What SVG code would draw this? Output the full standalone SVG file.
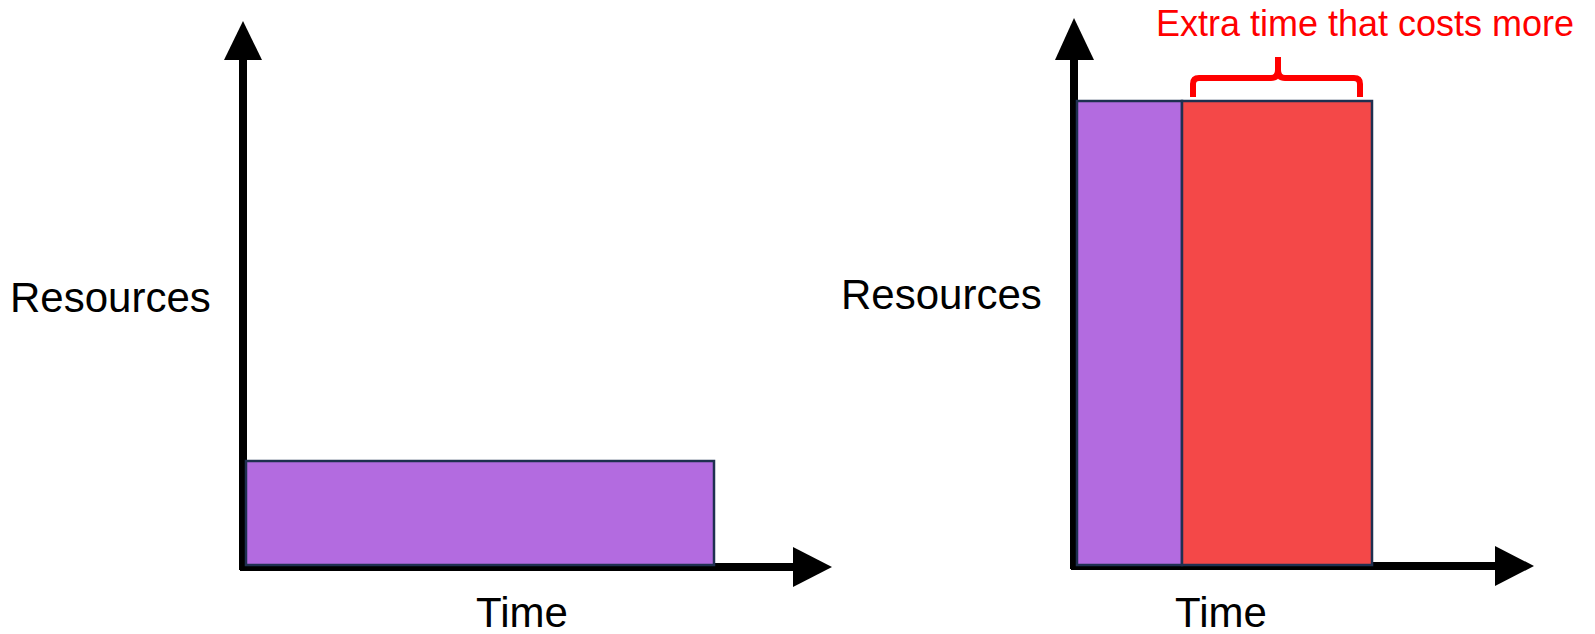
<svg xmlns="http://www.w3.org/2000/svg" width="1595" height="634" viewBox="0 0 1595 634">
<style>
.lbl{font-family:"Liberation Sans",Arial,sans-serif;font-size:42px;fill:#000}
.red{font-family:"Liberation Sans",Arial,sans-serif;font-size:36px;fill:#ff0000}
.axis{stroke:#000;stroke-width:8;fill:none}
.head{fill:#000}
.purple{fill:#b36be0;stroke:#1f3050;stroke-width:2.5}
.redbox{fill:#f44848;stroke:#1f3050;stroke-width:2.5}
.brace{fill:none;stroke:#ff0000;stroke-width:6;stroke-linejoin:round}
</style>
<rect width="1595" height="634" fill="#fff"/>
<g id="connectors">
  <g id="left-axes">
    <line class="axis" x1="243" y1="56" x2="243" y2="570"/>
    <polygon class="head" points="243,21 224,60 262,60"/>
    <line class="axis" x1="240" y1="567" x2="796" y2="567"/>
    <polygon class="head" points="832,567 793,547 793,587"/>
  </g>
  <g id="right-axes">
    <line class="axis" x1="1074" y1="56" x2="1074" y2="569"/>
    <polygon class="head" points="1074,18 1055,60 1094,60"/>
    <line class="axis" x1="1071" y1="566" x2="1498" y2="566"/>
    <polygon class="head" points="1534,566 1495,546 1495,586"/>
  </g>
</g>
<g id="left-bar">
  <rect class="purple" x="246" y="461" width="468" height="104"/>
</g>
<g id="right-bar-purple">
  <rect class="purple" x="1077" y="101" width="105" height="464"/>
</g>
<g id="right-bar-red">
  <rect class="redbox" x="1182" y="101" width="190" height="464"/>
</g>
<g id="brace">
  <path class="brace" d="M1193,97 L1193,84 Q1193,78 1199,78 L1271,78 Q1278,78 1278,70 L1278,57 M1278,70 Q1278,78 1285,78 L1354,78 Q1360,78 1360,84 L1360,97"/>
</g>
<g id="labels">
  <text class="lbl" x="522" y="627" text-anchor="middle">Time</text>
  <text class="lbl" x="10" y="312">Resources</text>
  <text class="lbl" x="841" y="309">Resources</text>
  <text class="lbl" x="1221" y="627" text-anchor="middle">Time</text>
  <text class="red" x="1156" y="36">Extra time that costs more</text>
</g>
</svg>
